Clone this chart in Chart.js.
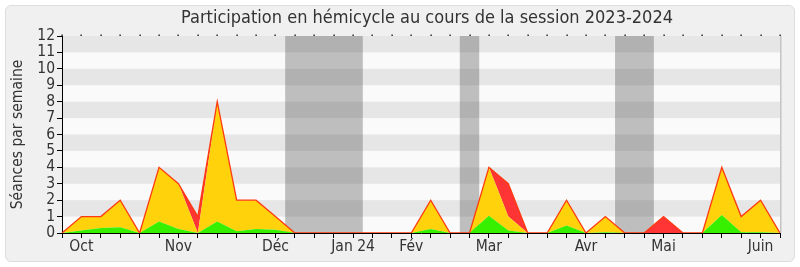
<!DOCTYPE html>
<html>
<head>
<meta charset="utf-8">
<script src="https://cdn.jsdelivr.net/npm/chart.js@4"></script>
<style>
  body { margin: 0; background: #fff; }
  #wrap { position: relative; width: 800px; height: 267px; }
  #box { position: absolute; left: 5px; top: 5px; width: 788px; height: 255px;
         background: #f0f0f0; border: 1px solid #dedede; border-radius: 6px; }
  canvas { position: absolute; left: 0; top: 0; }
</style>
</head>
<body>
<div id="wrap">
  <div id="box"></div>
  <canvas id="myChart" width="800" height="267"></canvas>
</div>
<script>
// une valeur par semaine (38 semaines, de fin septembre 2023 a mi-juin 2024)
const semaines = Array.from({ length: 38 }, (_, i) => 'S' + (i + 1));

// séances : présent + intervention (vert), présent (jaune), absent (rouge)
const vert =  [0, 0.15, 0.3, 0.35, 0, 0.7, 0.25, 0, 0.7, 0.1, 0.25, 0.2, 0, 0, 0, 0, 0, 0, 0, 0.25,
               0, 0, 1.05, 0.15, 0, 0, 0.45, 0, 0.05, 0, 0, 0, 0, 0, 1.1, 0.05, 0.05, 0];
const jaune = [0, 0.85, 0.7, 1.65, 0, 3.3, 2.75, 0, 7.3, 1.9, 1.75, 0.8, 0, 0, 0, 0, 0, 0, 0, 1.75,
               0, 0, 2.95, 0.85, 0, 0, 1.55, 0, 0.95, 0, 0, 0, 0, 0, 2.9, 0.95, 1.95, 0];
const rouge = [0, 0, 0, 0, 0, 0, 0, 1, 0, 0, 0, 0, 0, 0, 0, 0, 0, 0, 0, 0,
               0, 0, 0, 2, 0, 0, 0, 0, 0, 0, 0, 1, 0, 0, 0, 0, 0, 0];

// étiquettes des mois (index de semaine)
const moisIndex = [1, 6, 11, 15, 18, 22, 27, 31, 36];
const moisNoms = ['Oct', 'Nov', 'Déc', 'Jan 24', 'Fév', 'Mar', 'Avr', 'Mai', 'Juin'];

// vacances parlementaires (en semaines)
const vacances = [[11.5, 15.5], [20.5, 21.5], [28.5, 30.5]];

const titre = 'Participation en hémicycle au cours de la session 2023-2024';
const police = "'DejaVu Sans Condensed', 'DejaVu Sans', sans-serif";

const fond = {
    id: 'fond',
    beforeDraw(chart) {
        const { ctx, chartArea: a, scales: { x, y } } = chart;
        ctx.save();
        ctx.fillStyle = '#fafafa';
        ctx.fillRect(a.left, a.top, a.right - a.left, a.bottom - a.top);
        ctx.fillStyle = '#e6e6e6';
        for (let v = 1; v < 12; v += 2) {
            const y1 = y.getPixelForValue(v + 1), y0 = y.getPixelForValue(v);
            ctx.fillRect(a.left, y1, a.right - a.left, y0 - y1);
        }
        ctx.fillStyle = 'rgba(70,70,70,0.33)';
        vacances.forEach(([d, f]) => {
            const x0 = x.getPixelForValue(d), x1 = x.getPixelForValue(f);
            ctx.fillRect(x0, a.top, x1 - x0, a.bottom - a.top);
        });
        ctx.restore();
    },
    afterDraw(chart) {
        const { ctx, chartArea: a, scales: { x } } = chart;
        ctx.save();
        ctx.fillStyle = '#c4c4c4';
        ctx.fillRect(a.right, a.top, 1.5, a.bottom - a.top);
        ctx.fillStyle = '#000';
        for (let i = 0; i < semaines.length; i++) {
            ctx.fillRect(Math.round(x.getPixelForValue(i)) - 0.5, a.top - 1.5, 1.2, 1.5);
        }
        // titre centré sur la zone du graphique
        ctx.fillStyle = '#333';
        ctx.font = '18px ' + police;
        ctx.textAlign = 'center';
        ctx.textBaseline = 'middle';
        ctx.fillText(titre, (a.left + a.right) / 2 + 6, 18);
        ctx.restore();
    }
};

Chart.defaults.font.family = police;
Chart.defaults.color = '#333';

const ctx = document.getElementById('myChart');
new Chart(ctx, {
    type: 'line',
    data: {
        labels: semaines,
        datasets: [
            { data: vert, backgroundColor: '#36f000', borderWidth: 0, fill: 'origin' },
            { data: jaune, backgroundColor: '#ffd20c', borderWidth: 0, fill: '-1' },
            { data: rouge, backgroundColor: '#ff3535', borderColor: '#ff3a10', borderWidth: 1.3, fill: '-1' }
        ]
    },
    options: {
        responsive: false,
        animation: false,
        elements: { point: { radius: 0 }, line: { tension: 0 } },
        layout: { padding: { left: 0, right: 20, top: 36, bottom: 0 } },
        plugins: {
            filler: { drawTime: 'beforeDatasetsDraw' },
            legend: { display: false },
            tooltip: { enabled: false },
            title: { display: false }
        },
        scales: {
            x: {
                offset: false,
                grid: { drawOnChartArea: false, tickLength: 5, color: '#000', tickColor: '#000' },
                border: { color: '#000', width: 1 },
                ticks: {
                    autoSkip: false,
                    maxRotation: 0,
                    padding: 0,
                    font: { size: 15.5 },
                    callback: (v, i) => {
                        const k = moisIndex.indexOf(i);
                        return k >= 0 ? moisNoms[k] : '';
                    }
                },
                afterFit: s => { s.height = 34; }
            },
            y: {
                stacked: true,
                min: 0,
                max: 12,
                grid: { drawOnChartArea: false, tickLength: 5, tickColor: '#000' },
                border: { color: '#000', width: 1 },
                ticks: { stepSize: 1, autoSkip: false, padding: 2, font: { size: 15.5 } },
                title: {
                    display: true,
                    text: 'Séances par semaine',
                    color: '#333',
                    font: { size: 15.5 },
                    padding: { top: 9, bottom: 0 }
                },
                afterFit: s => { s.width = 62; }
            }
        }
    },
    plugins: [fond]
});
</script>
</body>
</html>
